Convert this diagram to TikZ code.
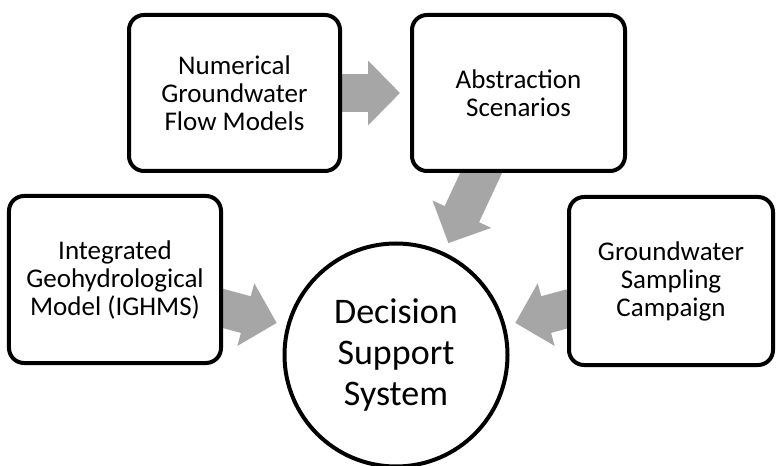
\documentclass[tikz,border=0pt]{standalone}
\usepackage{fontspec}
\setmainfont{Carlito}
\usetikzlibrary{arrows.meta,backgrounds}
\definecolor{arrowgray}{HTML}{A6A6A6}
\tikzset{
  box/.style={draw,line width=4bp,rounded corners=15bp,fill=white,align=center,
    minimum width=211bp,minimum height=156bp,font=\fontsize{27bp}{28bp}\selectfont},
  hub/.style={draw,circle,line width=4bp,fill=white,align=center,minimum size=223bp,
    font=\fontsize{36bp}{41bp}\selectfont},
  bigarrow/.style={draw=arrowgray,line width=38bp,-{Triangle[length=32bp,width=63bp]},
    shorten >=10bp,shorten <=-20bp}
}
\begin{document}
\begin{tikzpicture}[x=1bp,y=-1bp]
\useasboundingbox (0,0) rectangle (776,466);
\node[box] (num) at (234.5,93) {Numerical\\Groundwater\\Flow Models};
\node[box,minimum width=213bp] (abs) at (518.5,93) {Abstraction\\Scenarios};
\node[box,minimum width=212bp,minimum height=167bp] (igm) at (115,279.5) {Integrated\\Geohydrological\\Model (IGHMS)};
\node[box,minimum width=204bp,minimum height=168bp] (gsc) at (671,281) {Groundwater\\Sampling\\Campaign};
\node[hub] (dss) at (396,355) {Decision\\Support\\System};
\begin{pgfonlayer}{background}
\draw[bigarrow] (num) -- (abs);
\foreach \src in {abs,igm,gsc}
  \draw[bigarrow] (\src) -- (dss);
\end{pgfonlayer}
\end{tikzpicture}
\end{document}
